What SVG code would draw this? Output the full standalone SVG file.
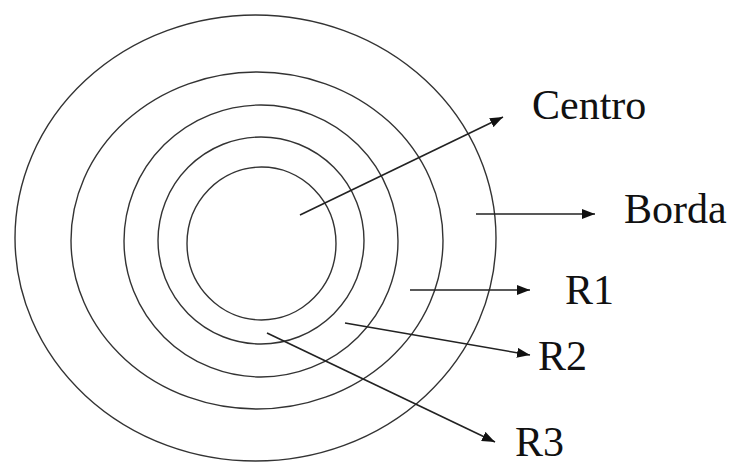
<svg xmlns="http://www.w3.org/2000/svg" width="731" height="466" viewBox="0 0 731 466">
<style>
.ring{fill:none;stroke:#333;stroke-width:1.4}
.con{fill:none;stroke:#222;stroke-width:1.6;marker-end:url(#ah)}
.lbl{font-family:'Liberation Serif','Tinos','Times New Roman','DejaVu Serif',serif;font-size:42px;fill:#111}
</style>
<defs>
<marker id="ah" markerUnits="userSpaceOnUse" markerWidth="14" markerHeight="10" refX="13" refY="5" orient="auto">
<path d="M0,0 L13,5 L0,10 Z" fill="#111"/>
</marker>
</defs>
<rect width="731" height="466" fill="#fff"/>
<g id="ring-borda"><ellipse class="ring" cx="255.5" cy="238" rx="240.5" ry="223"/></g>
<g id="ring-r1"><ellipse class="ring" cx="257" cy="240.5" rx="186" ry="168.5"/></g>
<g id="ring-r2"><ellipse class="ring" cx="261" cy="241" rx="137" ry="136"/></g>
<g id="ring-r3"><ellipse class="ring" cx="261" cy="240.5" rx="103" ry="103.5"/></g>
<g id="ring-centro"><ellipse class="ring" cx="261.5" cy="243.5" rx="74.5" ry="76.5"/></g>
<g id="connectors">
<line class="con" x1="300" y1="215" x2="503" y2="117"/>
<line class="con" x1="476" y1="214" x2="595" y2="214"/>
<line class="con" x1="410" y1="290" x2="530" y2="290"/>
<line class="con" x1="345" y1="323" x2="530" y2="355"/>
<line class="con" x1="267" y1="333" x2="495" y2="442"/>
</g>
<g id="label-centro"><text class="lbl" x="532" y="119">Centro</text></g>
<g id="label-borda"><text class="lbl" x="624" y="223">Borda</text></g>
<g id="label-r1"><text class="lbl" x="565" y="304">R1</text></g>
<g id="label-r2"><text class="lbl" x="538" y="370">R2</text></g>
<g id="label-r3"><text class="lbl" x="515" y="456">R3</text></g>
</svg>
